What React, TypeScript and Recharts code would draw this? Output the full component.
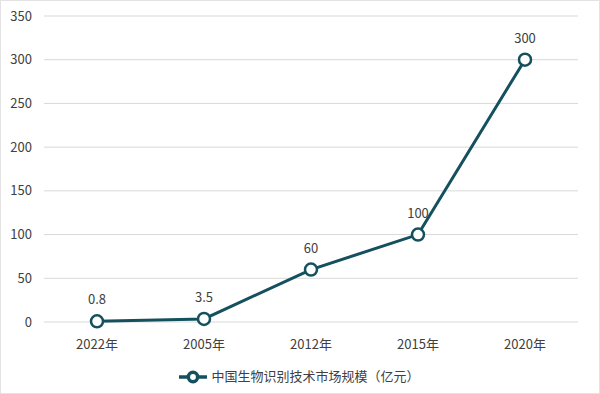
import { LineChart, Line, XAxis, YAxis, CartesianGrid, Legend, LabelList } from "recharts";

const years = ["2022年", "2005年", "2012年", "2015年", "2020年"];
const marketSize = [0.8, 3.5, 60, 100, 300];
const yTicks = [0, 50, 100, 150, 200, 250, 300, 350];

const data = years.map((year, i) => ({ year, value: marketSize[i] }));

const font = "'Noto Sans CJK SC', 'Noto Sans', sans-serif";
const lineColor = "#15505F";

export default function App() {
  return (
    <div
      style={{
        position: "fixed",
        left: 0,
        top: 0,
        width: 600,
        height: 394,
        background: "#fff",
        border: "1px solid #e3e3e3",
        boxSizing: "border-box",
        fontFamily: font,
      }}
    >
      <LineChart
        width={598}
        height={392}
        data={data}
        margin={{ top: 15, right: 21, left: 0, bottom: 7 }}
      >
        <CartesianGrid stroke="#d9d9d9" vertical={false} />
        <XAxis
          dataKey="year"
          axisLine={false}
          tickLine={false}
          padding={{ left: 53, right: 53 }}
          tick={{ fill: "#404040", fontSize: 13, fontFamily: font }}
          tickMargin={12}
          height={36}
        />
        <YAxis
          domain={[0, 350]}
          ticks={yTicks}
          axisLine={false}
          tickLine={false}
          width={43}
          tickMargin={6}
          tick={{ fill: "#404040", fontSize: 13, fontFamily: font }}
        />
        <Legend
          verticalAlign="bottom"
          iconType="line"
          iconSize={28}
          wrapperStyle={{ fontSize: 13, fontFamily: font, color: "#404040", bottom: 2, left: 15 }}
          formatter={(v) => <span style={{ color: "#404040" }}>{v}</span>}
        />
        <Line
          name="中国生物识别技术市场规模（亿元）"
          type="linear"
          dataKey="value"
          stroke={lineColor}
          strokeWidth={3}
          dot={{ r: 6, fill: "#fff", stroke: lineColor, strokeWidth: 2.5 }}
          isAnimationActive={false}
        >
          <LabelList
            dataKey="value"
            position="top"
            offset={17}
            style={{ fill: "#404040", fontSize: 13, fontFamily: font }}
          />
        </Line>
      </LineChart>
    </div>
  );
}
